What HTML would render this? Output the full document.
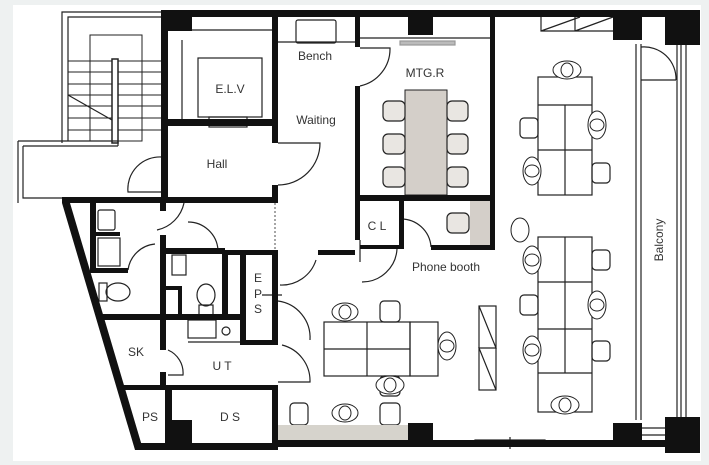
<!DOCTYPE html>
<html><head><style>
body{margin:0;background:#eef1f1;}
svg{display:block;font-family:"Liberation Sans",sans-serif;}
text{fill:#333;font-size:12px;}
</style></head><body>
<svg width="709" height="465" viewBox="0 0 709 465" xmlns="http://www.w3.org/2000/svg">
<rect x="13" y="5" width="688" height="456" fill="#fff"/>
<g fill="none" stroke="#222" stroke-width="1.2">
<!-- stairs -->
<path d="M62 143 V12 H161 M68 141 V17 H161"/>
<rect x="90" y="35" width="52" height="106" stroke-width="1"/>
<path d="M68 61 H161 M68 72 H161 M68 84 H161 M68 95 H161 M68 106 H161 M68 118 H161 M68 130 H161" stroke-width="1"/>
<path d="M68 95 L112 120" />
<rect x="112" y="59" width="6" height="84" fill="#fff" stroke-width="1.5"/>
<path d="M18 141 H118 V146 M23 146 H118 M18 141 V203 M23 146 V198 H62"/>
<!-- ELV -->
<rect x="198" y="58" width="64" height="59"/>
<rect x="209" y="117" width="38" height="10"/>
<path d="M192 30 H272 M182 40 V119"/>
<!-- Bench -->
<rect x="296" y="20" width="40" height="23" rx="2"/>
<path d="M278 42 H355"/>
<!-- doors -->
<path d="M162 157 A32 32 0 0 0 128 192 H162" />
<path d="M278 143 H320 A42 42 0 0 1 278 185"/>
<path d="M360 48 H390 A38 38 0 0 1 360 86"/>
<path d="M400 219 A30 30 0 0 1 431 247"/>
<path d="M360 262 V240 M397 249 A35 35 0 0 1 362 282"/>
<path d="M316 260 A36 36 0 0 1 280 285"/>
<path d="M278 301 A37 37 0 0 1 310 340" transform=""/>
<path d="M184 203 A35 35 0 0 1 157 230 M188 222 A30 30 0 0 1 218 250"/>
<path d="M155 244 A30 30 0 0 0 128 270 M168 350 A25 25 0 0 1 183 375 H168 M282 345 A37 37 0 0 1 310 382 H278"/>
<!-- MTG top -->
<path d="M360 38 H490"/>
<rect x="400" y="41" width="55" height="4" fill="#bbb" stroke="#999"/>
<!-- fixtures -->
<rect x="98" y="210" width="17" height="20" rx="2"/>
<rect x="98" y="238" width="22" height="28"/>
<ellipse cx="118" cy="292" rx="12" ry="9"/><rect x="99" y="283" width="8" height="18"/>
<rect x="172" y="255" width="14" height="20"/>
<ellipse cx="206" cy="295" rx="9" ry="11"/><rect x="199" y="305" width="14" height="10"/>
<rect x="188" y="320" width="28" height="18"/><circle cx="226" cy="331" r="4"/>
<path d="M188 342 H240"/>
<path d="M273 258 V330 M275 258 V330 M262 295 H282"/>
<path d="M275 203 V250" stroke-dasharray="2 2" stroke-width="0.8"/>
<!-- desks left cluster -->
<rect x="324" y="322" width="86" height="54"/>
<path d="M324 349 H410 M367 322 V376"/>
<rect x="410" y="322" width="28" height="54"/>
<rect x="380" y="301" width="20" height="21" rx="4"/>
<rect x="380" y="376" width="20" height="20" rx="4"/>
<rect x="290" y="403" width="18" height="22" rx="4"/>
<rect x="380" y="403" width="20" height="22" rx="4"/>
<!-- partition -->
<rect x="479" y="306" width="17" height="84"/>
<path d="M479 306 L496 348 L479 348 L496 390"/>
<!-- right cluster top -->
<rect x="538" y="77" width="54" height="118"/>
<path d="M538 105 H592 M538 150 H592 M565 105 V195"/>
<rect x="520" y="118" width="18" height="20" rx="4"/>
<rect x="592" y="163" width="18" height="20" rx="4"/>
<!-- right cluster bottom -->
<rect x="538" y="237" width="54" height="175"/>
<path d="M538 282 H592 M538 329 H592 M538 373 H592 M565 237 V373"/>
<rect x="592" y="250" width="18" height="20" rx="4"/>
<rect x="520" y="295" width="18" height="20" rx="4"/>
<rect x="592" y="341" width="18" height="20" rx="4"/>
<!-- balcony -->
<path d="M636 44 V420 M641 44 V420 M677 45 V417 M681 45 V417 M686 45 V417"/>
<path d="M641 47 A32 32 0 0 1 676 80 M641 80 H676"/>
<path d="M642 428 H665 M642 435 H665"/>
<rect x="475" y="440" width="70" height="5" fill="#fff"/>
<path d="M510 437 V449"/>
<path d="M541 17 V31 H613 M541 31 L580 17 M575 31 L613 17 M575 17 V31"/>
</g>
<!-- grey fills -->
<rect x="405" y="90" width="42" height="105" fill="#d4cfc9" stroke="#222"/>
<g fill="#e9e6e2" stroke="#222" stroke-width="1.2">
<rect x="383" y="101" width="22" height="20" rx="5"/><rect x="383" y="134" width="22" height="20" rx="5"/><rect x="383" y="167" width="22" height="20" rx="5"/>
<rect x="447" y="101" width="21" height="20" rx="5"/><rect x="447" y="134" width="21" height="20" rx="5"/><rect x="447" y="167" width="21" height="20" rx="5"/>
<rect x="447" y="213" width="22" height="20" rx="5"/>
</g>
<rect x="470" y="201" width="20" height="44" fill="#d4cfc9"/>
<rect x="278" y="425" width="130" height="16" fill="#d6d3cc"/>
<!-- people -->
<g fill="#fff" stroke="#222" stroke-width="1">
<ellipse cx="567" cy="70" rx="14" ry="9"/><ellipse cx="567" cy="70" rx="6" ry="7"/>
<ellipse cx="597" cy="125" rx="9" ry="14"/><ellipse cx="597" cy="125" rx="7" ry="6"/>
<ellipse cx="532" cy="171" rx="9" ry="14"/><ellipse cx="532" cy="171" rx="7" ry="6"/>
<ellipse cx="520" cy="230" rx="9" ry="12"/>
<ellipse cx="532" cy="260" rx="9" ry="14"/><ellipse cx="532" cy="260" rx="7" ry="6"/>
<ellipse cx="597" cy="305" rx="9" ry="14"/><ellipse cx="597" cy="305" rx="7" ry="6"/>
<ellipse cx="532" cy="350" rx="9" ry="14"/><ellipse cx="532" cy="350" rx="7" ry="6"/>
<ellipse cx="565" cy="405" rx="14" ry="9"/><ellipse cx="565" cy="405" rx="6" ry="7"/>
<ellipse cx="345" cy="312" rx="13" ry="9"/><ellipse cx="345" cy="312" rx="6" ry="7"/>
<ellipse cx="447" cy="346" rx="9" ry="14"/><ellipse cx="447" cy="346" rx="7" ry="6"/>
<ellipse cx="390" cy="385" rx="14" ry="9"/><ellipse cx="390" cy="385" rx="6" ry="7"/>
<ellipse cx="345" cy="413" rx="13" ry="9"/><ellipse cx="345" cy="413" rx="6" ry="7"/>
</g>
<!-- thick walls -->
<g fill="#111">
<rect x="161" y="10" width="539" height="7"/>
<rect x="161" y="10" width="31" height="21"/>
<rect x="161" y="10" width="7" height="193"/>
<rect x="168" y="119" width="104" height="7"/>
<rect x="272" y="10" width="6" height="133"/>
<rect x="272" y="185" width="6" height="18"/>
<rect x="62" y="197" width="216" height="6"/>
<rect x="408" y="17" width="25" height="18"/>
<rect x="355" y="17" width="5" height="30"/>
<rect x="355" y="86" width="5" height="154"/>
<rect x="490" y="17" width="5" height="233"/>
<rect x="355" y="195" width="140" height="6"/>
<rect x="399" y="201" width="5" height="48"/>
<rect x="360" y="245" width="40" height="4"/>
<rect x="431" y="245" width="64" height="5"/>
<rect x="613" y="10" width="29" height="30"/>
<rect x="665" y="10" width="35" height="35"/>
<rect x="275" y="440" width="425" height="7"/>
<rect x="408" y="423" width="25" height="24"/>
<rect x="613" y="423" width="29" height="24"/>
<rect x="665" y="417" width="35" height="36"/>
<polygon points="62,203 70,203 142,446 135,450"/>
<rect x="135" y="443" width="143" height="7"/>
<rect x="90" y="203" width="6" height="70"/>
<rect x="96" y="232" width="24" height="4"/>
<rect x="90" y="268" width="38" height="5"/>
<rect x="160" y="203" width="6" height="8"/>
<rect x="160" y="235" width="6" height="115"/>
<rect x="165" y="248" width="60" height="6"/>
<rect x="165" y="286" width="17" height="4"/>
<rect x="178" y="286" width="4" height="30"/>
<rect x="222" y="250" width="6" height="66"/>
<rect x="240" y="250" width="6" height="95"/>
<rect x="272" y="250" width="6" height="95"/>
<rect x="222" y="250" width="56" height="5"/>
<rect x="240" y="340" width="38" height="5"/>
<rect x="100" y="314" width="145" height="6"/>
<rect x="160" y="372" width="6" height="18"/>
<rect x="120" y="385" width="158" height="5"/>
<rect x="165" y="388" width="7" height="58"/>
<rect x="168" y="420" width="24" height="26"/>
<rect x="272" y="385" width="6" height="62"/>
<rect x="318" y="250" width="37" height="5"/>
</g>
<g text-anchor="middle">
<text x="315" y="60">Bench</text>
<text x="230" y="93">E.L.V</text>
<text x="316" y="124">Waiting</text>
<text x="217" y="168">Hall</text>
<text x="425" y="77">MTG.R</text>
<text x="377" y="230">C L</text>
<text x="446" y="271">Phone booth</text>
<text x="136" y="356">SK</text>
<text x="222" y="370">U T</text>
<text x="150" y="421">PS</text>
<text x="230" y="421">D S</text>
<text x="258" y="282">E</text><text x="258" y="298">P</text><text x="258" y="313">S</text>
<text transform="translate(663,240) rotate(-90)">Balcony</text>
</g>
</svg>
</body></html>
